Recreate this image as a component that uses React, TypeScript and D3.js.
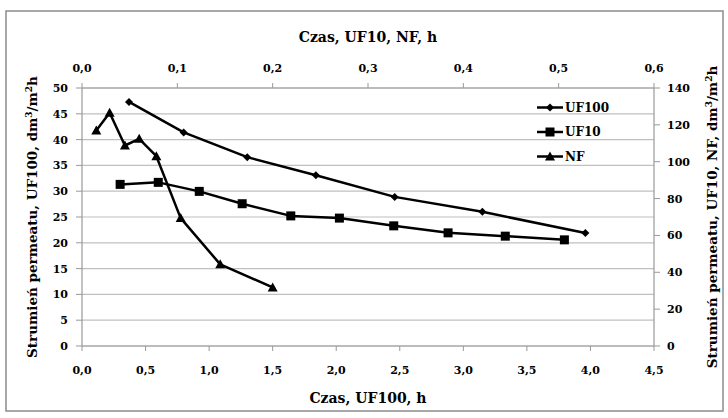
import React from 'react';
import { scaleLinear, line } from 'd3';

// UF100: bottom axis (h) vs left axis
const uf100Time = [0.37, 0.8, 1.3, 1.84, 2.46, 3.15, 3.96];
const uf100Flux = [47.3, 41.4, 36.6, 33.1, 28.9, 26.0, 21.9];

// UF10: top axis (h) vs right axis
const uf10Time = [0.04, 0.08, 0.123, 0.168, 0.219, 0.27, 0.327, 0.384, 0.444, 0.506];
const uf10Flux = [87.7, 88.8, 83.9, 77.2, 70.6, 69.4, 65.2, 61.4, 59.6, 57.6];

// NF: top axis (h) vs right axis
const nfTime = [0.015, 0.029, 0.045, 0.06, 0.078, 0.1035, 0.145, 0.2];
const nfFlux = [116.9, 126.6, 108.8, 112.4, 103.0, 69.4, 44.3, 31.8];

const bottomTicks = [0, 0.5, 1, 1.5, 2, 2.5, 3, 3.5, 4, 4.5];
const topTicks = [0, 0.1, 0.2, 0.3, 0.4, 0.5, 0.6];
const leftTicks = [0, 5, 10, 15, 20, 25, 30, 35, 40, 45, 50];
const rightTicks = [0, 20, 40, 60, 80, 100, 120, 140];
const seriesNames = ['UF100', 'UF10', 'NF'];

const W = 728, H = 418;
const left = 82, right = 654, top = 88, bottom = 346;
const font = "'DejaVu Serif', serif";

const fmt = (v: number, d: number) => v.toFixed(d).replace('.', ',');

function Marker({ kind, x, y }: { kind: string; x: number; y: number }) {
  if (kind === 'UF100') {
    const r = 4;
    return <path d={`M${x},${y - r}L${x + r},${y}L${x},${y + r}L${x - r},${y}Z`} fill="#000" />;
  }
  if (kind === 'UF10') {
    return <rect x={x - 4.5} y={y - 4.5} width={9} height={9} fill="#000" />;
  }
  return <path d={`M${x},${y - 5}L${x + 5},${y + 4}L${x - 5},${y + 4}Z`} fill="#000" />;
}

function T(props: any) {
  return <text style={{ fontFamily: font, fontWeight: 700 }} fill="#000" {...props} />;
}

export default function App() {
  const xBottom = scaleLinear().domain([0, 4.5]).range([left, right]);
  const xTop = scaleLinear().domain([0, 0.6]).range([left, right]);
  const yLeft = scaleLinear().domain([0, 50]).range([bottom, top]);
  const yRight = scaleLinear().domain([0, 140]).range([bottom, top]);

  const series = [
    { name: 'UF100', pts: uf100Time.map((t, i) => [xBottom(t), yLeft(uf100Flux[i])] as [number, number]) },
    { name: 'UF10', pts: uf10Time.map((t, i) => [xTop(t), yRight(uf10Flux[i])] as [number, number]) },
    { name: 'NF', pts: nfTime.map((t, i) => [xTop(t), yRight(nfFlux[i])] as [number, number]) },
  ];
  const path = line();

  return (
    <div style={{ position: 'fixed', left: 0, top: 0 }}>
      <svg width={W} height={H} style={{ display: 'block' }}>
        <rect x={0} y={0} width={W} height={H} fill="#fff" />
        <rect x={6} y={11} width={717} height={400} fill="none" stroke="#8c8c8c" strokeWidth={1.5} />

        {/* gridlines */}
        {leftTicks.map(t => (
          <line key={'g' + t} x1={left} x2={right} y1={yLeft(t)} y2={yLeft(t)} stroke="#c0c0c0" strokeWidth={1.2} />
        ))}

        {/* axis lines */}
        <line x1={left} x2={left} y1={top} y2={bottom} stroke="#999" strokeWidth={1.2} />
        <line x1={right} x2={right} y1={top} y2={bottom} stroke="#999" strokeWidth={1.2} />
        <line x1={left} x2={right} y1={bottom} y2={bottom} stroke="#999" strokeWidth={1.2} />
        <line x1={left} x2={right} y1={top} y2={top} stroke="#999" strokeWidth={1.2} />

        {/* left axis */}
        {leftTicks.map(t => (
          <g key={'l' + t}>
            <line x1={left - 6} x2={left} y1={yLeft(t)} y2={yLeft(t)} stroke="#999" />
            <T x={68} y={yLeft(t)} dy="0.36em" textAnchor="end" fontSize={11}>{t}</T>
          </g>
        ))}
        {/* right axis */}
        {rightTicks.map(t => (
          <g key={'r' + t}>
            <line x1={right} x2={right + 6} y1={yRight(t)} y2={yRight(t)} stroke="#999" />
            <T x={667} y={yRight(t)} dy="0.36em" textAnchor="start" fontSize={11}>{t}</T>
          </g>
        ))}
        {/* bottom axis */}
        {bottomTicks.map(t => (
          <g key={'b' + t}>
            <line x1={xBottom(t)} x2={xBottom(t)} y1={bottom} y2={bottom + 5} stroke="#999" />
            <T x={xBottom(t)} y={374} textAnchor="middle" fontSize={11}>{fmt(t, 1)}</T>
          </g>
        ))}
        {/* top axis */}
        {topTicks.map(t => (
          <g key={'t' + t}>
            <line x1={xTop(t)} x2={xTop(t)} y1={top - 5} y2={top} stroke="#999" />
            <T x={xTop(t)} y={72} textAnchor="middle" fontSize={11}>{fmt(t, 1)}</T>
          </g>
        ))}

        {/* axis titles */}
        <T x={(left + right) / 2} y={403} textAnchor="middle" fontSize={14}>Czas, UF100, h</T>
        <T x={(left + right) / 2} y={42} textAnchor="middle" fontSize={14}>Czas, UF10, NF, h</T>
        <T transform={`translate(37,${(top + bottom) / 2}) rotate(-90)`} textAnchor="middle" fontSize={13.5}>
          Strumień permeatu, UF100, dm<tspan fontSize={9} dy={-5}>3</tspan><tspan dy={5}>/m</tspan>
          <tspan fontSize={9} dy={-5}>2</tspan><tspan dy={5}>h</tspan>
        </T>
        <T transform={`translate(717,${(top + bottom) / 2}) rotate(-90)`} textAnchor="middle" fontSize={13.5}>
          Strumień permeatu, UF10, NF, dm<tspan fontSize={9} dy={-5}>3</tspan><tspan dy={5}>/m</tspan>
          <tspan fontSize={9} dy={-5}>2</tspan><tspan dy={5}>h</tspan>
        </T>

        {/* series */}
        {series.map(s => (
          <g key={s.name}>
            <path d={path(s.pts) || ''} fill="none" stroke="#000" strokeWidth={2.5} strokeLinejoin="round" />
            {s.pts.map((p, i) => <Marker key={i} kind={s.name} x={p[0]} y={p[1]} />)}
          </g>
        ))}

        {/* legend */}
        {seriesNames.map((n, i) => {
          const ly = 107.5 + i * 24.5;
          return (
            <g key={'lg' + n}>
              <line x1={537} x2={563} y1={ly} y2={ly} stroke="#000" strokeWidth={2.5} />
              <Marker kind={n} x={550} y={ly} />
              <T x={565} y={ly} dy="0.36em" fontSize={12}>{n}</T>
            </g>
          );
        })}
      </svg>
    </div>
  );
}
